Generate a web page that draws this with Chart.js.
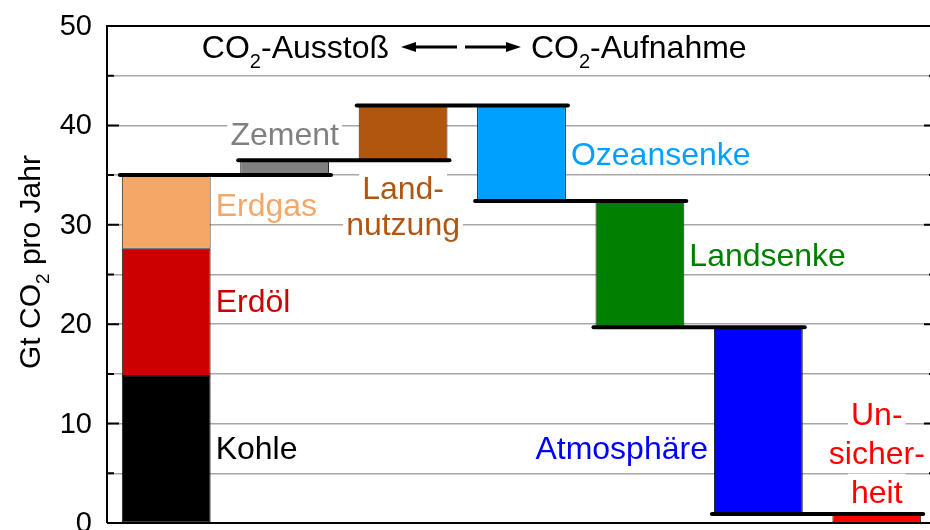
<!DOCTYPE html>
<html><head><meta charset="utf-8">
<script src="https://cdn.jsdelivr.net/npm/chart.js@4.4.1/dist/chart.umd.min.js"></script>
<style>html,body{margin:0;padding:0;overflow:hidden;background:#fff;width:930px;height:530px}canvas{display:block}</style>
</head><body>
<canvas id="c" width="950" height="530"></canvas>
<script>
// ---- data ----
const categories = ['Fossil', 'Zement', 'Landnutzung', 'Ozeansenke', 'Landsenke', 'Atmosphäre', 'Unsicherheit'];
const fossilNames = ['Kohle', 'Erdöl', 'Erdgas'];
const fossilValues = [14.8, 12.8, 7.4];
const flowNames = ['Zement', 'Landnutzung', 'Ozeansenke', 'Landsenke', 'Atmosphäre', 'Unsicherheit'];
const flowValues = [1.5, 5.5, -9.6, -12.7, -18.8, -0.9];
const yTickLabels = [0, 10, 20, 30, 40, 50];

// ---- styles ----
const FONT = '"Liberation Sans", Arial, Helvetica, sans-serif';
const fossilColors = ['#000000', '#cc0000', '#f4a766'];
const flowColors = ['#808080', '#b0560f', '#00a0ff', '#007f00', '#0000ff', '#ff0000'];

// ---- build waterfall datasets ----
const datasets = [];
let cum = 0;
fossilValues.forEach((v, k) => {
  const start = cum; cum += v;
  datasets.push({
    label: fossilNames[k],
    data: categories.map((c, i) => i === 0 ? [start, cum] : null),
    backgroundColor: fossilColors[k]
  });
});
const levels = [cum];
const flowData = [null];
flowValues.forEach(v => {
  const start = cum; cum += v;
  flowData.push([start, cum]);
  levels.push(cum);
});
datasets.push({ label: 'Flüsse', data: flowData, backgroundColor: [null].concat(flowColors) });
datasets.forEach(d => Object.assign(d, {
  borderColor: '#1a1a1a', borderWidth: 1, borderSkipped: false,
  barPercentage: 0.75, categoryPercentage: 1.0, grouped: false
}));

// ---- annotations (text) ----
const notes = [
  { lines: ['Kohle'], color: '#000000', cat: 0, place: 'right', y: 7.55 },
  { lines: ['Erdöl'], color: '#cc0000', cat: 0, place: 'right', y: 22.4 },
  { lines: ['Erdgas'], color: '#f4a766', cat: 0, place: 'right', y: 32.0 },
  { lines: ['Zement'], color: '#808080', cat: 1, place: 'center', y: 39.2 },
  { lines: ['Land-', 'nutzung'], color: '#b0560f', cat: 2, place: 'center', y: 33.7, gap: 36 },
  { lines: ['Ozeansenke'], color: '#00a0ff', cat: 3, place: 'right', y: 37.2 },
  { lines: ['Landsenke'], color: '#008000', cat: 4, place: 'right', y: 27.0 },
  { lines: ['Atmosphäre'], color: '#0000ff', cat: 5, place: 'left', y: 7.55 },
  { lines: ['Un-', 'sicher-', 'heit'], color: '#ff0000', cat: 6, place: 'center', y: 11.0, gap: 39 }
];
const LABEL_SIZE = 32;

function barRect(chart, cat) {
  for (let d = chart.data.datasets.length - 1; d >= 0; d--) {
    if (chart.data.datasets[d].data[cat]) {
      const el = chart.getDatasetMeta(d).data[cat];
      return { left: el.x - el.width / 2, right: el.x + el.width / 2, x: el.x };
    }
  }
}

function drawRich(ctx, parts, x, yCenter, align, size) {
  const subSize = Math.round(size * 0.62);
  let total = 0;
  parts.forEach(p => {
    ctx.font = (p.sub ? subSize : size) + 'px ' + FONT;
    p.w = ctx.measureText(p.t).width; total += p.w;
  });
  let cx = align === 'right' ? x - total : align === 'center' ? x - total / 2 : x;
  const base = yCenter + 0.358 * size;
  ctx.textAlign = 'left'; ctx.textBaseline = 'alphabetic';
  parts.forEach(p => {
    ctx.font = (p.sub ? subSize : size) + 'px ' + FONT;
    ctx.fillText(p.t, cx, p.sub ? base + 0.3 * size : base);
    cx += p.w;
  });
}

function arrow(ctx, x1, x2, y) {
  const dir = Math.sign(x2 - x1);
  ctx.lineWidth = 3; ctx.strokeStyle = '#000'; ctx.fillStyle = '#000';
  ctx.beginPath(); ctx.moveTo(x1, y); ctx.lineTo(x2 - dir * 10, y); ctx.stroke();
  ctx.beginPath(); ctx.moveTo(x2, y); ctx.lineTo(x2 - dir * 15, y - 5); ctx.lineTo(x2 - dir * 15, y + 5); ctx.closePath(); ctx.fill();
}

const decor = {
  id: 'decor',
  beforeDatasetsDraw(chart) {
    const ctx = chart.ctx, ys = chart.scales.y;
    ctx.save();
    notes.forEach(n => {
      const r = barRect(chart, n.cat);
      ctx.font = LABEL_SIZE + 'px ' + FONT;
      let align = 'left', x = r.right + 5;
      if (n.place === 'left') { align = 'right'; x = r.left - 6; }
      if (n.place === 'center') { align = 'center'; x = r.x; }
      n.lines.forEach((t, li) => {
        const yc = ys.getPixelForValue(n.y) + li * (n.gap || 0);
        const w = ctx.measureText(t).width;
        const bx = align === 'left' ? x : align === 'right' ? x - w : x - w / 2;
        ctx.fillStyle = '#ffffff';
        ctx.fillRect(bx - 3, yc - 18, w + 6, 37);
      });
      ctx.fillStyle = n.color;
      n.lines.forEach((t, li) => {
        const yc = ys.getPixelForValue(n.y) + li * (n.gap || 0);
        drawRich(ctx, [{ t }], x, yc, align, LABEL_SIZE);
      });
    });
    ctx.restore();
  },
  afterDatasetsDraw(chart) {
    const ctx = chart.ctx, ys = chart.scales.y, a = chart.chartArea;
    ctx.save();
    // connector lines between waterfall steps
    ctx.strokeStyle = '#000'; ctx.lineWidth = 4; ctx.lineCap = 'round';
    for (let i = 0; i < categories.length - 1; i++) {
      const r1 = barRect(chart, i), r2 = barRect(chart, i + 1);
      const y = ys.getPixelForValue(levels[i]);
      ctx.beginPath(); ctx.moveTo(r1.left - 2, y); ctx.lineTo(r2.right + 2, y); ctx.stroke();
    }
    // frame
    ctx.lineCap = 'butt'; ctx.lineWidth = 2;
    ctx.beginPath();
    ctx.moveTo(a.left, a.bottom); ctx.lineTo(a.left, a.top); ctx.lineTo(a.right, a.top);
    ctx.lineTo(a.right, a.bottom); ctx.lineTo(a.left, a.bottom); ctx.stroke();
    // inward ticks
    ys.ticks.forEach(t => {
      const y = ys.getPixelForValue(t.value);
      const len = yTickLabels.includes(t.value) ? 12 : 7;
      ctx.beginPath();
      ctx.moveTo(a.left, y); ctx.lineTo(a.left + len, y);
      ctx.moveTo(a.right, y); ctx.lineTo(a.right - len, y);
      ctx.stroke();
    });
    // tick labels
    ctx.fillStyle = '#000';
    ctx.font = '29px ' + FONT; ctx.textAlign = 'right'; ctx.textBaseline = 'middle';
    yTickLabels.forEach(v => ctx.fillText(String(v), a.left - 15, ys.getPixelForValue(v) + 1));
    // header
    ctx.fillStyle = '#000';
    drawRich(ctx, [{ t: 'CO' }, { t: '2', sub: true }, { t: '-Ausstoß' }], 389, 47, 'right', 32);
    drawRich(ctx, [{ t: 'CO' }, { t: '2', sub: true }, { t: '-Aufnahme' }], 531, 47, 'left', 32);
    arrow(ctx, 457, 401, 47);
    arrow(ctx, 465, 521, 47);
    // y title
    ctx.translate(29, 262); ctx.rotate(-Math.PI / 2);
    drawRich(ctx, [{ t: 'Gt CO' }, { t: '2', sub: true }, { t: ' pro Jahr' }], 0, 0, 'center', 30);
    ctx.restore();
  }
};

new Chart(document.getElementById('c'), {
  type: 'bar',
  data: { labels: categories, datasets },
  options: {
    responsive: false, animation: false,
    layout: { padding: { top: 26, right: 14, bottom: 7, left: 0 } },
    plugins: { legend: { display: false }, tooltip: { enabled: false } },
    scales: {
      x: { display: false, offset: true },
      y: {
        min: 0, max: 50,
        ticks: { stepSize: 5, display: false },
        grid: { color: '#a8a8a8', lineWidth: 1.5, drawTicks: false },
        border: { display: false },
        afterFit(s) { s.width = 107; }
      }
    }
  },
  plugins: [decor]
});
</script>
</body></html>
